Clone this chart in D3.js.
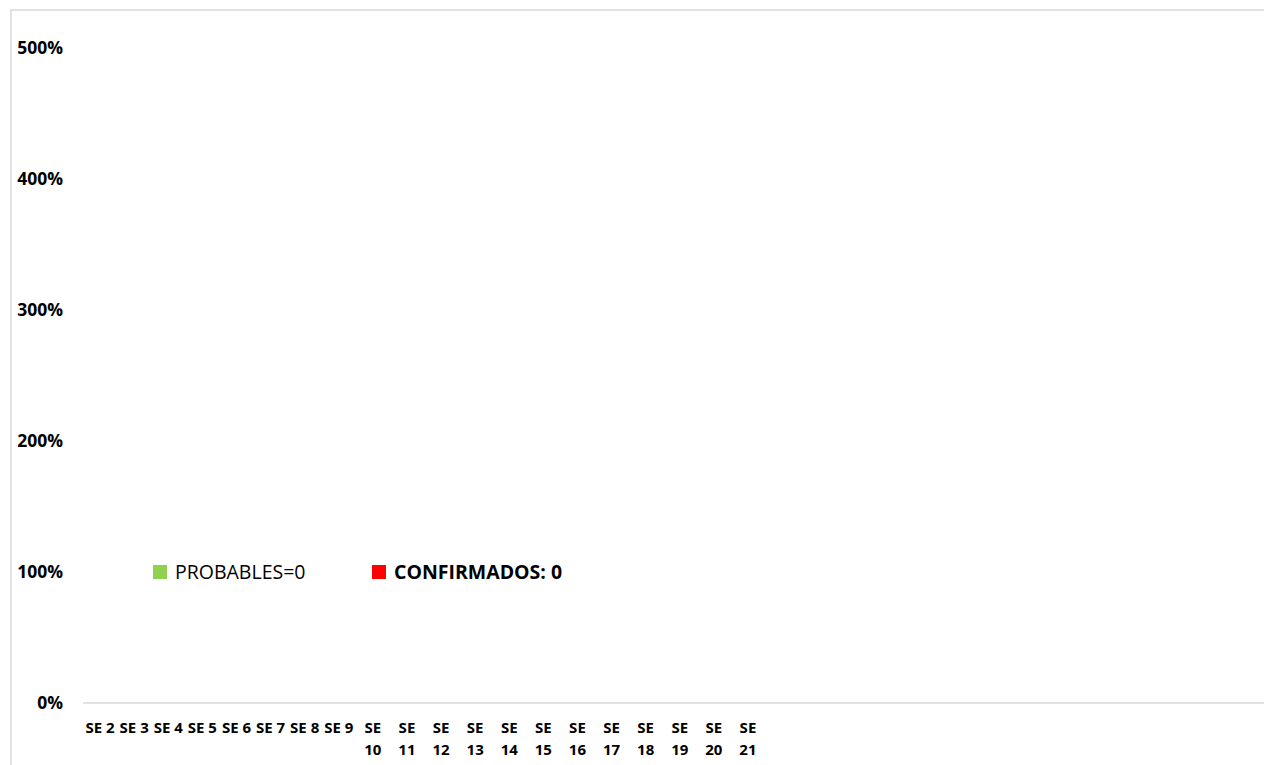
<!DOCTYPE html>
<html>
<head>
<meta charset="utf-8">
<script src="https://cdn.jsdelivr.net/npm/d3@7"></script>
<style>
  html, body { margin: 0; padding: 0; background: #fff; }
  svg { display: block; }
</style>
</head>
<body>
<svg id="chart" width="1264" height="765"></svg>
<script>
// ---- data ----
const categories = ["SE 2","SE 3","SE 4","SE 5","SE 6","SE 7","SE 8","SE 9","SE 10","SE 11","SE 12","SE 13","SE 14","SE 15","SE 16","SE 17","SE 18","SE 19","SE 20","SE 21"];
const probables   = [0,0,0,0,0,0,0,0,0,0,0,0,0,0,0,0,0,0,0,0];
const confirmados = [0,0,0,0,0,0,0,0,0,0,0,0,0,0,0,0,0,0,0,0];
const yTicks = [0, 1, 2, 3, 4, 5];
const seriesNames = ["PROBABLES=0", "CONFIRMADOS: 0"];
const seriesColors = ["#92d050", "#ff0000"];

const svg = d3.select("#chart");
const W = 1264, H = 765;
const font = "'Open Sans', 'Liberation Sans', sans-serif";

// chart border
svg.append("rect")
  .attr("x", 11).attr("y", 10)
  .attr("width", W + 20).attr("height", H + 20)
  .attr("fill", "#fff")
  .attr("stroke", "#d9d9d9").attr("stroke-width", 1.5);

const plot = { left: 83, right: 765, top: 48, bottom: 703 };

const x = d3.scaleBand().domain(categories).range([plot.left, plot.right]).paddingInner(0.5).paddingOuter(0.25);
const xc = d3.scaleBand().domain(categories).range([plot.left, plot.right]);
const y = d3.scaleLinear().domain([0, 5]).range([plot.bottom, plot.top]);

// bars (all zero)
const x1 = d3.scaleBand().domain([0, 1]).range([0, x.bandwidth()]);
const barG = svg.append("g");
[probables, confirmados].forEach((vals, si) => {
  barG.selectAll(null).data(vals).enter().append("rect")
    .attr("x", (d, i) => x(categories[i]) + x1(si))
    .attr("y", d => y(d))
    .attr("width", x1.bandwidth())
    .attr("height", d => y(0) - y(d))
    .attr("fill", seriesColors[si]);
});

// y axis labels
const yAxis = d3.axisLeft(y).tickValues(yTicks).tickSize(0).tickPadding(0)
  .tickFormat(d => d3.format(".0%")(d));
const yg = svg.append("g").attr("transform", `translate(63,0)`).call(yAxis);
yg.select(".domain").remove();
yg.selectAll("text")
  .attr("font-family", font).attr("font-weight", "bold")
  .attr("font-size", 17.5).attr("fill", "#000");

// x axis line
svg.append("line")
  .attr("x1", plot.left).attr("x2", W + 10)
  .attr("y1", y(0)).attr("y2", y(0))
  .attr("stroke", "#d9d9d9").attr("stroke-width", 1.5);

// x axis labels
const xAxis = d3.axisBottom(xc).tickSize(0).tickPadding(0);
const xg = svg.append("g").attr("transform", `translate(0,${y(0)})`).call(xAxis);
xg.select(".domain").remove();
xg.selectAll("text").each(function(d) {
  const t = d3.select(this);
  t.text(null)
    .attr("font-family", font).attr("font-weight", "bold")
    .attr("font-size", 15).attr("fill", "#000")
    .attr("dy", null).attr("y", 30);
  const parts = d.length > 4 ? d.split(" ") : [d];
  parts.forEach((p, i) => {
    t.append("tspan").attr("x", 0).attr("dy", i === 0 ? 0 : 22).text(p);
  });
});

// legend
const legendItems = [
  { x: 153, name: seriesNames[0], color: seriesColors[0], weight: "normal" },
  { x: 372, name: seriesNames[1], color: seriesColors[1], weight: "bold" }
];
const lg = svg.append("g");
legendItems.forEach(it => {
  lg.append("rect").attr("x", it.x).attr("y", 565).attr("width", 14).attr("height", 14).attr("fill", it.color);
  lg.append("text").attr("x", it.x + 22).attr("y", 572).attr("dy", "0.35em")
    .attr("font-family", font).attr("font-weight", it.weight)
    .attr("font-size", 19.5).attr("fill", "#000").text(it.name);
});
</script>
</body>
</html>
